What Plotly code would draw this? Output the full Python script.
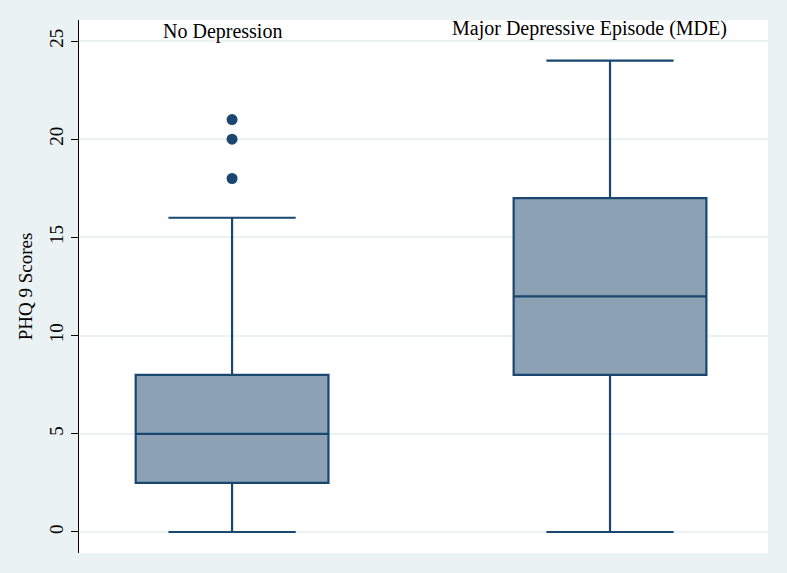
import plotly.graph_objects as go

groups = ["No Depression", "Major Depressive Episode (MDE)"]
q1 = [2.5, 8]
median = [5, 12]
q3 = [8, 17]
lower_whisker = [0, 0]
upper_whisker = [16, 24]
outlier_group = ["No Depression", "No Depression", "No Depression"]
outlier_values = [18, 20, 21]
y_ticks = [0, 5, 10, 15, 20, 25]

navy = "#1a476f"
fill = "#8ca1b4"
bg = "#eaf2f3"
font = "Liberation Serif"

pos = {g: i for i, g in enumerate(groups)}

fig = go.Figure()
fig.add_trace(go.Box(
    x=[pos[g] for g in groups],
    q1=q1, median=median, q3=q3,
    lowerfence=lower_whisker, upperfence=upper_whisker,
    fillcolor=fill, line=dict(color=navy, width=2.2),
    width=0.51, whiskerwidth=0.66, boxpoints=False,
    hoverinfo="y", showlegend=False,
))
fig.add_trace(go.Scatter(
    x=[pos[g] for g in outlier_group], y=outlier_values, mode="markers",
    marker=dict(color=navy, size=11), showlegend=False,
))

label_pos = [(-0.025, 25.46), (0.947, 25.66)]
for g, (lx, ly) in zip(groups, label_pos):
    fig.add_annotation(x=lx, y=ly, text=g, showarrow=False,
                       font=dict(family=font, size=20, color="black"),
                       xanchor="center", yanchor="middle")

fig.update_layout(
    width=787, height=573,
    margin=dict(l=79, r=19, t=20, b=20),
    paper_bgcolor=bg, plot_bgcolor="white",
    font=dict(family=font, size=20, color="black"),
    xaxis=dict(range=[-0.405, 1.418], showticklabels=False, showgrid=False,
               zeroline=False, showline=False, ticks=""),
    yaxis=dict(range=[-1.07, 26.07], tickvals=y_ticks, tickangle=-90,
               ticks="outside", ticklen=7, tickcolor="black", tickwidth=1,
               showline=True, linecolor="black", linewidth=1.2,
               showgrid=True, gridcolor=bg, gridwidth=1.5, zeroline=False,
               title=dict(text="PHQ 9 Scores", font=dict(family=font, size=19), standoff=8),
               tickfont=dict(family=font, size=19)),
)

fig.write_html("out.html", config={"displayModeBar": False},
               post_script="document.body.style.margin='0';")
